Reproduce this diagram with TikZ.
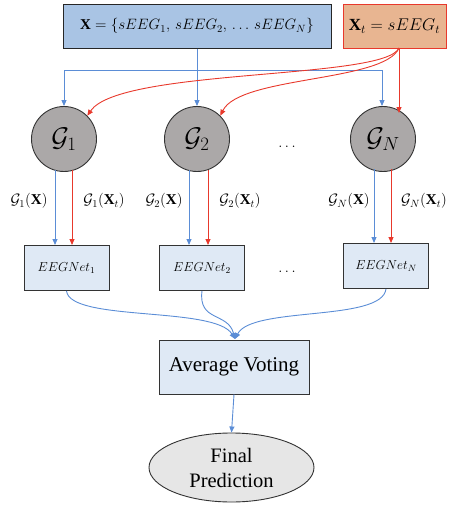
\RequirePackage{fix-cm}
\documentclass[tikz,border=0pt]{standalone}
\usepackage{amsmath}
\usepackage{fontspec}
\setmainfont{Liberation Serif}
\usetikzlibrary{arrows.meta,shapes.geometric}
\definecolor{lblue}{HTML}{5B8DD6}
\definecolor{lred}{HTML}{E8392C}
\definecolor{boxblue}{HTML}{A9C4E4}
\definecolor{boxorange}{HTML}{E8B591}
\definecolor{paleblue}{HTML}{DFE9F5}
\definecolor{circgray}{HTML}{ABA8A8}
\definecolor{ellgray}{HTML}{E6E6E6}
\tikzset{
  bluearrow/.style={draw=lblue, line width=0.9pt, -{Triangle[length=6pt,width=5pt]}},
  redarrow/.style={draw=lred, line width=0.9pt, -{Triangle[length=6pt,width=5pt]}},
  netbox/.style={draw=black!80, line width=0.9pt, fill=paleblue, minimum width=85pt, minimum height=45pt, font=\fontsize{13}{15}\selectfont},
  gcirc/.style={circle, draw=black!80, line width=0.9pt, fill=circgray, minimum size=65pt, inner sep=0pt, font=\fontsize{27}{29}\selectfont},
  lbl/.style={font=\fontsize{15}{17}\selectfont, inner sep=0pt},
  dots/.style={font=\fontsize{15}{17}\selectfont}
}
\begin{document}
\begin{tikzpicture}[x=1pt,y=-1pt]
\useasboundingbox (0,0) rectangle (452,506);
% inputs
\node[draw=black!85, line width=1pt, fill=boxblue, minimum width=268pt, minimum height=44pt, font=\fontsize{15}{17}\selectfont] (X) at (197,26) {$\mathbf{X}=\{sEEG_1,\,sEEG_2,\,\dots\,sEEG_N\}$};
\node[draw=lred, line width=1pt, fill=boxorange, minimum width=103pt, minimum height=44pt, font=\fontsize{17}{19}\selectfont] (Xt) at (394.5,26) {$\mathbf{X}_t=sEEG_t$};
% generators
\node[gcirc] (g1) at (64,139) {$\mathcal{G}_1$};
\node[gcirc] (g2) at (197,139) {$\mathcal{G}_2$};
\node[gcirc] (gN) at (383,139) {$\mathcal{G}_N$};
\node[dots] (d1) at (287,147) {$\ldots$};
% classifiers
\node[netbox] (n1) at (66.5,268) {$EEGNet_1$};
\node[netbox] (n2) at (202,268) {$EEGNet_2$};
\node[netbox] (nN) at (386,266) {$EEGNet_N$};
\node[dots] (d2) at (287,272) {$\ldots$};
% fusion and output
\node[draw=black!80, line width=0.9pt, fill=paleblue, minimum width=150pt, minimum height=54pt, font=\fontsize{21}{23}\selectfont] (avg) at (234,367) {Average Voting};
\node[ellipse, draw=black!80, line width=0.9pt, fill=ellgray, minimum width=165pt, minimum height=69pt, inner sep=0pt, align=center, font=\fontsize{20.5}{25}\selectfont] (fp) at (231.5,467.5) {Final\\Prediction};
% blue distribution of X
\coordinate (bj) at (197,70);
\coordinate (bl) at (64,70);
\coordinate (br) at (382,70);
\draw[lblue, line width=0.9pt] (X.south -| bj) -- (bj);
\draw[lblue, line width=0.9pt] (bl) -- (br);
\draw[bluearrow] (bl) -- (g1.north);
\draw[bluearrow] (bj) -- (g2.north);
\draw[bluearrow] (br) -- (br |- gN.north);
% red distribution of X_t
\coordinate (rs) at (399,48);
\coordinate (rN) at (399,113);
\draw[redarrow] (rs) .. controls (385,80) and (120,68) .. (g1.45);
\draw[redarrow] (rs) .. controls (385,82) and (240,76) .. (g2.45);
\draw[redarrow] (rs) -- (rN);
% generator outputs
\draw[bluearrow] (55,170) -- (55,245);
\draw[redarrow] (72,170) -- (72,245);
\draw[bluearrow] (189,170) -- (189,245);
\draw[redarrow] (208,170) -- (208,245);
\draw[bluearrow] (374,169) -- (374,243);
\draw[redarrow] (391,169) -- (391,243);
\node[lbl] (l1a) at (29,201) {$\mathcal{G}_1(\mathbf{X})$};
\node[lbl] (l1b) at (104,201) {$\mathcal{G}_1(\mathbf{X}_t)$};
\node[lbl] (l2a) at (164,201) {$\mathcal{G}_2(\mathbf{X})$};
\node[lbl] (l2b) at (240,201) {$\mathcal{G}_2(\mathbf{X}_t)$};
\node[lbl] (lNa) at (349,201) {$\mathcal{G}_N(\mathbf{X})$};
\node[lbl] (lNb) at (424,201) {$\mathcal{G}_N(\mathbf{X}_t)$};
% votes
\coordinate (vt) at (235,339);
\draw[bluearrow] (n1.south) .. controls (70,322) and (215,306) .. (vt);
\draw[bluearrow] (n2.south) .. controls (198,322) and (228,312) .. (vt);
\draw[bluearrow] (nN.south) .. controls (382,322) and (252,306) .. (vt);
\draw[bluearrow] (avg.south) -- (fp.north);
\end{tikzpicture}
\end{document}
